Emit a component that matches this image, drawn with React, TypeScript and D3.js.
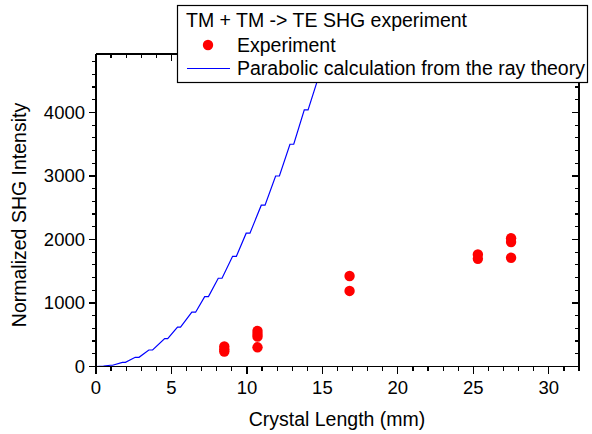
import React from "react";
import * as d3 from "d3";

const expX = [8.5, 8.5, 8.5, 10.7, 10.7, 10.7, 10.7, 16.8, 16.8, 25.3, 25.3, 27.5, 27.5, 27.5];
const expY = [315, 270, 235, 560, 510, 470, 302, 1425, 1190, 1765, 1695, 2020, 1960, 1712];

const curveX = [0, 0.5, 0.95, 1.1, 1.75, 1.95, 2.6, 2.85, 3.5, 3.75, 4.55, 4.75, 5.4, 5.6, 6.35, 6.6, 7.2, 7.45, 8.1, 8.35, 9.05, 9.3, 9.95, 10.2, 10.95, 11.2, 11.9, 12.15, 12.85, 13.1, 13.8, 14.05, 15.2];
const curveY = [0, 5, 20, 20, 65, 65, 145, 145, 260, 260, 440, 440, 620, 620, 855, 855, 1100, 1100, 1390, 1390, 1735, 1735, 2100, 2100, 2540, 2540, 3000, 3000, 3500, 3500, 4040, 4040, 4900];

const xMajor = [0, 5, 10, 15, 20, 25, 30];
const yMajor = [0, 1000, 2000, 3000, 4000];

const legendTitle = "TM + TM -> TE SHG experiment";
const seriesNames = ["Experiment", "Parabolic calculation from the ray theory"];
const xTitle = "Crystal Length (mm)";
const yTitle = "Normalized SHG Intensity";

const W = 592, H = 434;
const L = 96, R = 579, T = 54, B = 366.5;
const FONT = "'Liberation Sans', Arial, sans-serif";

export default function App() {
  const x = d3.scaleLinear().domain([0, 32]).range([L, R]);
  const y = d3.scaleLinear().domain([0, 4921]).range([B, T]);
  const xMinor = d3.range(0, 33, 1).filter((v) => v % 5 !== 0);
  const yMinor = d3.range(0, 4900, 200).filter((v) => v % 1000 !== 0);
  const line = d3
    .line<number>()
    .x((_, i) => x(curveX[i]))
    .y((d) => y(d));
  const pathD = line(curveY) || "";
  const maj = 7, min = 4;

  return (
    <svg width={W} height={H} style={{ position: "absolute", left: 0, top: 0, background: "#fff" }}>
      <defs>
        <clipPath id="plotclip">
          <rect x={L} y={T} width={R - L} height={B - T} />
        </clipPath>
      </defs>
      <rect x={0} y={0} width={W} height={H} fill="#fff" />
      {/* curve */}
      <path d={pathD} fill="none" stroke="#0000ff" strokeWidth={1.2} clipPath="url(#plotclip)" />
      {/* points */}
      {expX.map((v, i) => (
        <circle key={i} cx={x(v)} cy={y(expY[i])} r={5.2} fill="#ff0000" />
      ))}
      {/* axes frame */}
      <g stroke="#000" strokeWidth={1.2} fill="none" shapeRendering="crispEdges">
        <line x1={L} y1={B} x2={R} y2={B} />
        <line x1={L} y1={T} x2={L} y2={B} />
        <line x1={L} y1={T} x2={R} y2={T} />
        <line x1={R} y1={T} x2={R} y2={B} />
        {xMajor.map((v) => (
          <g key={"xm" + v}>
            <line x1={x(v)} x2={x(v)} y1={B} y2={B + maj} />
            <line x1={x(v)} x2={x(v)} y1={T} y2={T + maj} />
          </g>
        ))}
        {xMinor.map((v) => (
          <g key={"xn" + v}>
            <line x1={x(v)} x2={x(v)} y1={B} y2={B + min} />
            <line x1={x(v)} x2={x(v)} y1={T} y2={T + min} />
          </g>
        ))}
        {yMajor.map((v) => (
          <g key={"ym" + v}>
            <line x1={L - maj} x2={L} y1={y(v)} y2={y(v)} />
            <line x1={R - maj} x2={R} y1={y(v)} y2={y(v)} />
          </g>
        ))}
        {yMinor.map((v) => (
          <g key={"yn" + v}>
            <line x1={L - min} x2={L} y1={y(v)} y2={y(v)} />
            <line x1={R - min} x2={R} y1={y(v)} y2={y(v)} />
          </g>
        ))}
      </g>
      {/* tick labels */}
      <g fontFamily={FONT} fontSize={18.5} fill="#000">
        {xMajor.map((v) => (
          <text key={"xl" + v} x={x(v)} y={394} textAnchor="middle">
            {v}
          </text>
        ))}
        {yMajor.map((v) => (
          <text key={"yl" + v} x={L - 11} y={y(v) + 6.5} textAnchor="end">
            {v}
          </text>
        ))}
      </g>
      {/* axis titles */}
      <text x={337} y={426} textAnchor="middle" fontFamily={FONT} fontSize={19.5} fill="#000">
        {xTitle}
      </text>
      <text
        transform={`translate(26,215) rotate(-90)`}
        textAnchor="middle"
        fontFamily={FONT}
        fontSize={19.5}
        fill="#000"
      >
        {yTitle}
      </text>
      {/* legend */}
      <g fontFamily={FONT} fontSize={19.5} fill="#000">
        <rect x={177.5} y={5.5} width={410} height={77} fill="#fff" stroke="#000" strokeWidth={1.2} />
        <text x={186} y={27}>{legendTitle}</text>
        <circle cx={208} cy={45} r={5.2} fill="#ff0000" />
        <text x={237} y={52}>{seriesNames[0]}</text>
        <line x1={187} x2={230} y1={68.5} y2={68.5} stroke="#0000ff" strokeWidth={1.2} />
        <text x={237} y={75}>{seriesNames[1]}</text>
      </g>
    </svg>
  );
}
